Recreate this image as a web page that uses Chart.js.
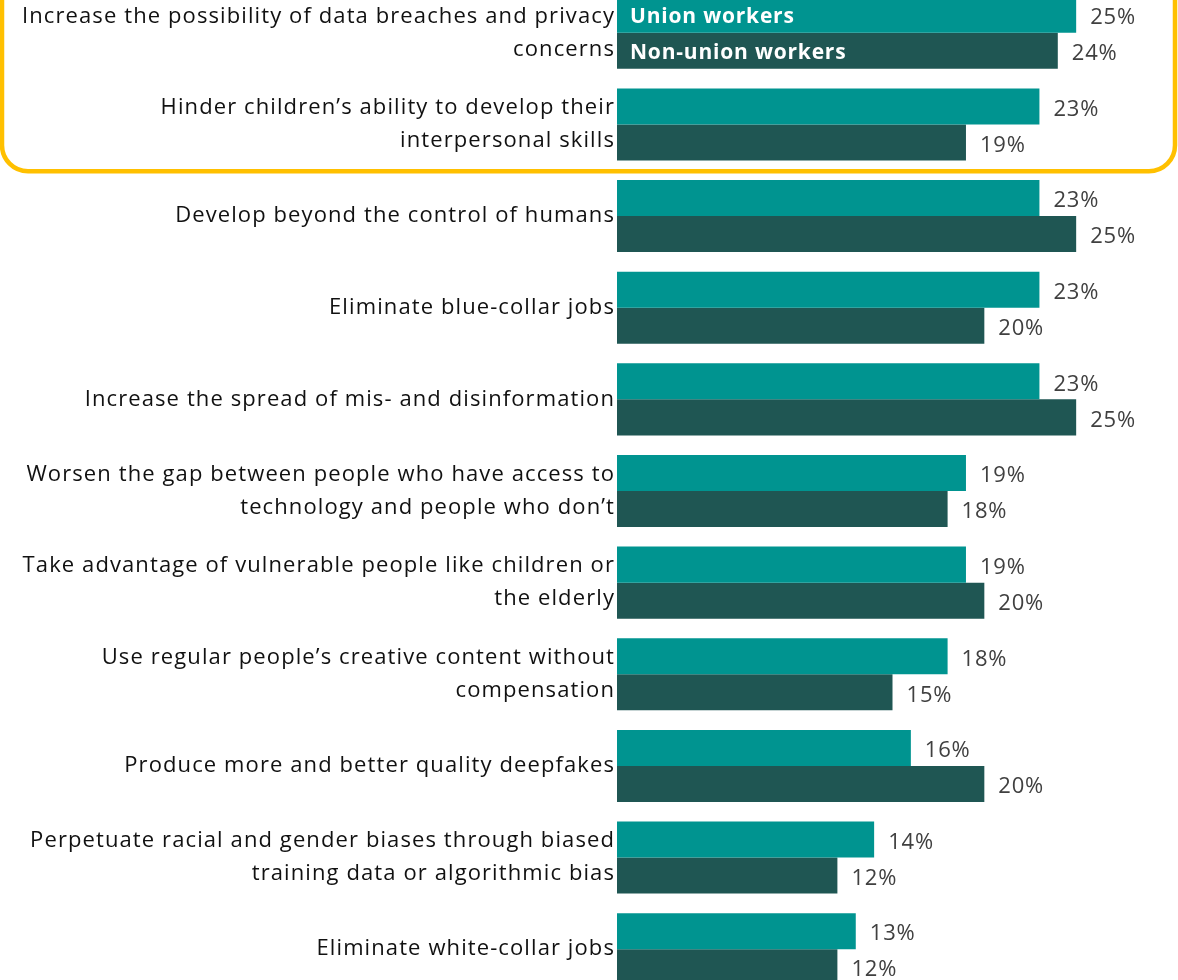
<!DOCTYPE html>
<html>
<head>
<meta charset="utf-8">
<script src="https://cdn.jsdelivr.net/npm/chart.js@4"></script>
<style>
  html, body { margin: 0; padding: 0; background: #fff; overflow: hidden; }
  #wrap { position: absolute; left: 0; top: -13px; width: 1178px; height: 1008px; }
</style>
</head>
<body>
<div id="wrap"><canvas id="chart"></canvas></div>
<script>
// Concerns about AI, union vs non-union workers
const categories = [
  ['Increase the possibility of data breaches and privacy', 'concerns'],
  ['Hinder children\u2019s ability to develop their', 'interpersonal skills'],
  'Develop beyond the control of humans',
  'Eliminate blue-collar jobs',
  'Increase the spread of mis- and disinformation',
  ['Worsen the gap between people who have access to', 'technology and people who don\u2019t'],
  ['Take advantage of vulnerable people like children or', 'the elderly'],
  ['Use regular people\u2019s creative content without', 'compensation'],
  'Produce more and better quality deepfakes',
  ['Perpetuate racial and gender biases through biased', 'training data or algorithmic bias'],
  'Eliminate white-collar jobs'
];
const unionValues = [25, 23, 23, 23, 23, 19, 19, 18, 16, 14, 13];
const nonUnionValues = [24, 19, 25, 20, 25, 18, 20, 15, 20, 12, 12];
const seriesNames = ['Union workers', 'Non-union workers'];

const FONT = '"Open Sans", sans-serif';

// a bit of tracking on all text, labels are fairly spread out
const tracking = {
  id: 'tracking',
  beforeDraw(chart) {
    chart.ctx.letterSpacing = '1.1px';
  }
};

// percent labels at the end of each bar
const valueLabels = {
  id: 'valueLabels',
  afterDatasetsDraw(chart) {
    const ctx = chart.ctx;
    ctx.save();
    ctx.letterSpacing = '0.8px';
    ctx.font = '22px ' + FONT;
    ctx.fillStyle = '#404040';
    ctx.textAlign = 'left';
    ctx.textBaseline = 'middle';
    chart.data.datasets.forEach((ds, i) => {
      chart.getDatasetMeta(i).data.forEach((bar, j) => {
        ctx.fillText(ds.data[j] + '%', bar.x + 14, bar.y + 3);
      });
    });
    ctx.restore();
  }
};

// series names written inside the first pair of bars
const seriesInBar = {
  id: 'seriesInBar',
  afterDatasetsDraw(chart) {
    const ctx = chart.ctx;
    ctx.save();
    ctx.letterSpacing = '0.8px';
    ctx.font = 'bold 21px ' + FONT;
    ctx.fillStyle = '#ffffff';
    ctx.textAlign = 'left';
    ctx.textBaseline = 'middle';
    chart.data.datasets.forEach((ds, i) => {
      const bar = chart.getDatasetMeta(i).data[0];
      ctx.fillText(ds.label, bar.base + 13, bar.y + 2);
    });
    ctx.restore();
  }
};

// rounded yellow frame around the top two items
const highlightBox = {
  id: 'highlightBox',
  afterDraw(chart) {
    const ctx = chart.ctx;
    const y = chart.scales.y;
    const bottom = (y.getPixelForValue(1) + y.getPixelForValue(2)) / 2 + 1;
    ctx.save();
    ctx.strokeStyle = '#FFC000';
    ctx.lineWidth = 4.5;
    ctx.beginPath();
    ctx.roundRect(2, -40, chart.width - 5, bottom + 40, 26);
    ctx.stroke();
    ctx.restore();
  }
};

new Chart(document.getElementById('chart'), {
  type: 'bar',
  data: {
    labels: categories,
    datasets: [
      { label: seriesNames[0], data: unionValues, backgroundColor: '#009490' },
      { label: seriesNames[1], data: nonUnionValues, backgroundColor: '#1F5653' }
    ]
  },
  options: {
    indexAxis: 'y',
    responsive: true,
    maintainAspectRatio: false,
    animation: false,
    layout: { padding: { top: 0, bottom: 0, left: 0, right: 10 } },
    datasets: {
      bar: { categoryPercentage: 0.786, barPercentage: 1.0 }
    },
    plugins: {
      legend: { display: false },
      tooltip: { enabled: false }
    },
    scales: {
      x: {
        display: false,
        min: 0,
        max: 30
      },
      y: {
        afterFit(scale) {
          scale.width = 617;
          scale.paddingTop = 0;
          scale.paddingBottom = 0;
        },
        grid: { display: false, drawTicks: false },
        border: { display: false },
        ticks: {
          padding: 2,
          color: '#111111',
          font: { family: FONT, size: 22, lineHeight: 1.5 }
        }
      }
    }
  },
  plugins: [tracking, valueLabels, seriesInBar, highlightBox]
});
</script>
</body>
</html>
